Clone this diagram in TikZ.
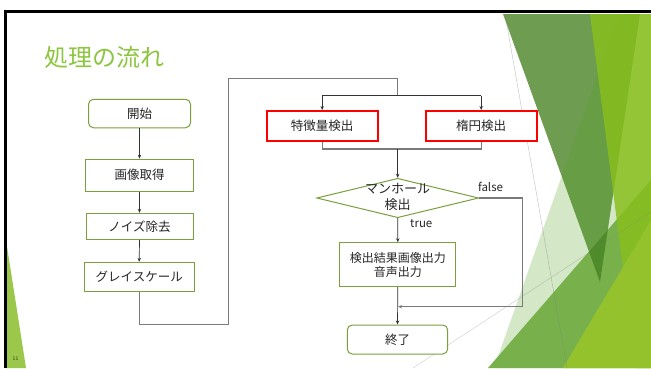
\documentclass[tikz,border=0pt]{standalone}
\usepackage{fontspec}
\newfontfamily\jp{Noto Sans CJK JP}
\usetikzlibrary{shapes.geometric,arrows.meta}
\definecolor{boxgreen}{HTML}{7AA03E}
\definecolor{titlegreen}{HTML}{8CC63E}
\definecolor{txt}{HTML}{262626}
\definecolor{darkline}{HTML}{333333}
\definecolor{grayline}{HTML}{7A7A7A}
\definecolor{redbox}{HTML}{FF0000}
\definecolor{muted}{HTML}{6E9C50}
\definecolor{accA}{HTML}{54A021}
\definecolor{medg}{HTML}{78B14B}
\definecolor{darkg}{HTML}{4F8B2B}
\definecolor{yelg}{HTML}{88BF1C}
\definecolor{brig}{HTML}{93C22D}
\definecolor{strip}{HTML}{9BC84A}
\begin{document}
\begin{tikzpicture}[x=1pt,y=-1pt,
  flow/.style={draw=boxgreen,line width=1pt,fill=white,text=txt,font=\jp\fontsize{12.5}{15}\selectfont,inner sep=0pt,align=center},
  term/.style={flow,rounded corners=5pt},
  redb/.style={draw=redbox,line width=2pt,fill=white,text=txt,font=\jp\fontsize{12.5}{15}\selectfont,inner sep=0pt},
  arr/.style={draw=darkline,line width=0.7pt,-{Stealth[length=4pt,width=3.4pt]}},
  link/.style={draw=grayline,line width=1.1pt},
  lbl/.style={font=\jp\fontsize{11.5}{14}\selectfont,text=txt,inner sep=0pt}
]
\useasboundingbox (0,0) rectangle (651,368);
\fill[white] (0,0) rectangle (651,368);
% left strip
\fill[strip] (6,240) -- (6,368) -- (26,368) -- cycle;
% right decoration
\fill[muted] (503,14) -- (640,14) -- (600,282) -- cycle;
\fill[accA,opacity=0.25] (494,368) -- (619,14) -- (651,14) -- (651,368) -- cycle;
\fill[medg] (488,368) -- (651,180) -- (651,368) -- cycle;
\begin{scope}
  \clip (503,14) -- (640,14) -- (600,282) -- cycle;
  \fill[darkg] (488,368) -- (651,180) -- (651,368) -- cycle;
\end{scope}
\fill[yelg,opacity=0.84] (590,14) -- (651,14) -- (651,368) -- (636,368) -- cycle;
\fill[brig] (563,368) -- (651,220) -- (651,368) -- cycle;
\draw[gray,line width=0.4pt,opacity=0.5] (505,14) -- (567,368);
\draw[gray,line width=0.4pt,opacity=0.4] (413,368) -- (651,212);
% black borders
\draw[black,line width=2.5pt] (4,11.5) -- (651,11.5);
\draw[black,line width=2.5pt] (5.3,10.25) -- (5.3,368);
% title and page number
\node[anchor=west,text=titlegreen,font=\jp\fontsize{24}{28}\selectfont,inner sep=0pt] (title) at (44,57.5) {処理の流れ};
\node[font=\jp\fontsize{5}{6}\selectfont,text=darkline,inner sep=0pt] (pg) at (15.5,358.7) {11};
% nodes
\node[term,minimum width=102pt,minimum height=28.5pt] (start) at (139.5,113.5) {開始};
\node[flow,minimum width=108pt,minimum height=32pt] (acq) at (139.5,175.2) {画像取得};
\node[flow,minimum width=107pt,minimum height=26pt] (noise) at (139.5,226.3) {ノイズ除去};
\node[flow,minimum width=110pt,minimum height=28.7pt] (gray) at (139.2,276.7) {グレイスケール};
\node[redb,minimum width=111pt,minimum height=29.7pt] (feat) at (322.2,125.9) {特徴量検出};
\node[redb,minimum width=111pt,minimum height=29.7pt] (ellip) at (481.2,125.9) {楕円検出};
\node[diamond,draw=boxgreen,line width=1pt,fill=white,minimum width=162pt,minimum height=39.4pt,inner sep=0pt,aspect=4.1] (dec) at (397.7,198) {};
\node[text=txt,font=\jp\fontsize{13}{16.5}\selectfont,align=center,inner sep=0pt] (dectxt) at (397.7,196.7) {マンホール\\検出};
\node[flow,font=\jp\fontsize{12}{13.6}\selectfont,minimum width=115.7pt,minimum height=44pt] (res) at (397.8,264.7) {検出結果画像出力\\音声出力};
\node[term,minimum width=100.4pt,minimum height=29pt] (end) at (397.5,339.5) {終了};
% coordinates
\coordinate (c2) at (228.3,324.3);
\coordinate (c3) at (228.3,78.3);
\coordinate (c4) at (397.7,78.3);
\coordinate (split) at (397.7,95.7);
\coordinate (join) at (397.7,149);
\coordinate (f1) at (522.7,198);
\coordinate (f2) at (522.7,306.7);
\coordinate (fend) at (398,306.7);
% connectors
\draw[arr] (start.south) -- (acq.north);
\draw[arr] (acq.south) -- (noise.north);
\draw[arr] (noise.south) -- (gray.north);
\draw[link] (gray.south) -- (gray.south |- c2) -- (c2) -- (c3) -- (c4) -- (split);
\draw[darkline,line width=0.7pt] (feat.north |- split) -- (ellip.north |- split);
\draw[arr] (feat.north |- split) -- (feat.north);
\draw[arr] (ellip.north |- split) -- (ellip.north);
\draw[link] (feat.south) -- (feat.south |- join) -- (ellip.south |- join) -- (ellip.south);
\draw[arr] (join) -- (dec.north);
\draw[arr] (dec.south) -- (res.north);
\draw[arr] (res.south) -- (end.north);
\draw[link,-{Stealth[length=4pt,width=3.4pt]}] (dec.east) -- (f1) -- (f2) -- (fend);
\node[lbl,anchor=west] (tl) at (410,223.5) {true};
\node[lbl] (fl) at (490.5,187) {false};
\end{tikzpicture}
\end{document}
